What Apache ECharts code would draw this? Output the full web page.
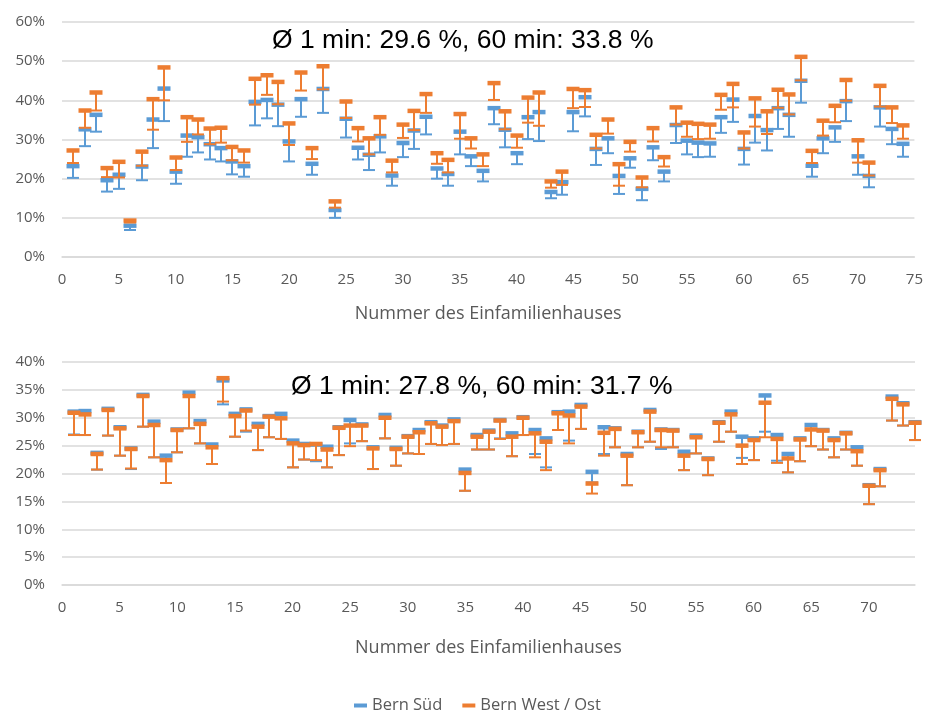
<!DOCTYPE html>
<html>
<head>
<meta charset="utf-8">
<script src="https://cdn.jsdelivr.net/npm/echarts@6/dist/echarts.min.js"></script>
<style>
  html, body { margin: 0; padding: 0; background: #ffffff; }
  #chart { width: 926px; height: 711px; }
</style>
</head>
<body>
<div id="chart"></div>
<script>
// House numbers (x positions)
const houses = [1,2,3,4,5,6,7,8,9,10,11,12,13,14,15,16,17,18,19,20,21,22,23,24,25,
  26,27,28,29,30,31,32,33,34,35,36,37,38,39,40,41,42,43,44,45,46,47,48,49,50,
  51,52,53,54,55,56,57,58,59,60,61,62,63,64,65,66,67,68,69,70,71,72,73,74];

// Upper panel: marker value and lower end of the range, in %
const topSuedMark = [23.2,32.6,36.3,19.6,21.0,8.0,23.1,35.1,43.0,21.8,31.0,30.6,28.8,27.8,24.4,23.2,39.6,40.1,38.9,29.5,
  40.3,23.8,42.9,12.0,35.3,27.9,26.1,30.8,20.8,29.1,32.3,35.8,22.6,21.2,32.0,25.7,22.0,38.0,32.5,26.5,
  35.7,37.0,16.6,19.1,37.0,40.8,27.6,30.3,20.7,25.2,17.4,28.0,21.8,33.7,29.7,29.2,29.0,35.7,40.2,27.6,
  36.0,32.4,38.0,36.3,45.0,23.3,30.3,33.1,39.8,25.7,20.7,38.2,32.7,28.9];
const topSuedLow = [20.2,28.3,32.0,16.7,17.4,6.9,19.6,27.8,34.7,18.7,25.6,26.7,24.9,24.4,21.1,20.5,33.6,35.4,33.4,24.4,
  35.8,21.0,36.8,10.0,30.5,24.9,22.2,26.7,18.2,25.5,27.6,31.3,20.0,18.2,26.2,23.2,19.3,33.9,28.0,23.7,
  30.1,29.6,15.0,15.9,32.1,35.9,23.5,26.5,16.1,22.8,14.5,24.7,19.3,29.1,26.2,25.5,25.6,31.7,34.5,23.6,
  29.2,27.2,32.7,30.7,39.4,20.5,26.5,29.4,34.7,21.0,17.8,33.3,28.8,25.6];
const topWestMark = [27.2,37.4,42.0,22.7,24.3,9.3,26.9,40.3,48.4,25.4,35.7,35.1,32.8,33.0,28.1,27.2,45.5,46.4,44.7,34.1,
  47.1,27.8,48.7,14.2,39.7,32.9,30.3,35.7,24.6,33.8,37.3,41.6,26.5,24.8,36.5,30.3,26.2,44.4,37.2,31.0,
  40.7,42.0,19.3,21.8,42.9,42.6,31.2,35.1,23.7,29.4,20.3,32.9,25.5,38.2,34.3,34.0,33.8,41.4,44.2,31.8,
  40.5,37.2,42.7,41.5,51.1,27.1,34.8,38.6,45.2,29.8,24.1,43.7,38.2,33.6];
const topWestLow = [24.0,33.0,37.4,20.4,20.3,8.8,23.3,32.5,40.0,22.2,29.4,31.3,28.8,29.2,24.7,24.1,38.9,41.4,39.0,28.6,
  42.5,25.0,42.8,12.6,35.5,29.5,26.2,31.2,21.6,30.4,32.4,36.8,23.8,21.6,30.2,27.7,23.2,40.1,32.6,27.9,
  34.3,33.5,17.7,18.4,38.0,38.3,27.7,31.5,18.2,26.9,17.8,29.5,23.1,33.8,30.7,30.1,30.2,37.6,38.2,27.7,
  33.3,31.4,38.1,36.4,45.1,24.0,31.0,34.4,39.9,24.1,20.8,38.4,34.2,30.2];

// Lower panel: marker value and lower end of the range, in %
const bottomSuedMark = [31.1,31.2,23.7,31.6,28.3,24.5,34.1,29.3,23.2,27.9,34.5,29.4,25.2,36.7,30.7,31.5,28.9,30.3,30.7,25.9,
  25.3,25.2,24.8,28.3,29.6,28.8,24.7,30.5,24.6,26.7,27.8,29.2,28.6,29.7,20.7,26.9,27.7,29.6,27.2,30.1,
  27.8,26.3,31.0,31.1,32.3,20.3,28.3,28.1,23.5,27.5,31.4,27.9,27.8,23.9,26.8,22.7,29.2,31.1,26.6,26.3,
  34.0,26.9,23.5,26.3,28.7,27.8,26.3,27.3,24.7,17.9,20.8,33.8,32.6,29.2];
const bottomSuedLow = [27.0,26.9,20.7,26.8,23.2,20.8,28.4,22.9,18.3,23.8,28.1,25.4,21.7,32.4,26.6,27.5,24.2,26.5,26.2,21.1,
  22.5,22.2,21.1,23.3,25.4,25.8,20.8,26.3,21.4,23.6,23.5,25.3,25.1,25.3,16.9,24.3,24.3,26.3,23.1,26.9,
  23.5,21.1,27.8,25.9,28.0,18.4,23.5,24.7,17.9,24.7,25.7,24.4,24.7,20.6,23.6,19.7,25.7,27.5,22.8,22.4,
  27.5,22.3,20.2,22.2,24.9,24.3,22.9,24.3,21.4,14.5,17.7,29.5,28.6,26.0];
const bottomWestMark = [30.9,30.6,23.5,31.4,28.1,24.4,33.9,28.7,22.4,27.8,33.9,28.9,24.7,37.1,30.3,31.3,28.4,30.2,29.9,25.4,
  25.1,25.3,24.3,28.2,28.6,28.6,24.5,30.0,24.4,26.6,27.4,29.0,28.4,29.4,20.1,26.6,27.5,29.5,26.6,30.0,
  27.2,25.7,30.8,30.4,32.0,18.2,27.3,28.0,23.2,27.4,31.1,27.8,27.7,23.2,26.5,22.6,29.1,30.6,25.0,26.0,
  32.7,26.2,22.7,26.1,27.9,27.7,26.0,27.2,24.0,17.8,20.6,33.4,32.4,29.1];
const bottomWestLow = [26.9,26.9,20.7,26.8,23.2,20.9,28.4,22.9,18.3,23.8,28.1,25.4,21.7,32.9,26.6,27.7,24.2,26.5,26.2,21.1,
  22.5,22.4,21.1,23.3,24.9,25.8,20.8,26.3,21.4,23.6,23.5,25.3,25.1,25.3,16.9,24.3,24.3,26.2,23.1,26.9,
  22.9,20.6,27.8,25.4,28.0,16.4,23.2,24.7,17.9,24.7,25.7,24.7,24.7,20.6,23.6,19.7,25.7,27.5,21.7,22.4,
  26.5,21.9,20.2,22.2,24.9,24.3,22.9,24.3,21.4,14.5,17.7,29.5,28.6,26.0];

const topXTicks = [0, 75, 5];      // min, max, interval
const bottomXTicks = [0, 74, 5];
const topYTicks = [0, 60, 10];
const bottomYTicks = [0, 40, 5];

const seriesNames = ['Bern Süd', 'Bern West / Ost'];
const colors = ['#5B9BD5', '#ED7D31'];

const topTitle = 'Ø 1 min: 29.6 %, 60 min: 33.8 %';
const bottomTitle = 'Ø 1 min: 27.8 %, 60 min: 31.7 %';
const axisName = 'Nummer des Einfamilienhauses';

const axisFont = '"Open Sans", "Noto Sans", sans-serif';
const labelColor = '#595959';
const gridColor = '#d9d9d9';

function rows(mark, low) {
  return houses.map((h, i) => [h, mark[i], low[i]]);
}

// Marker (thick dash) at the value, whisker down to a thin cap at the lower end
function renderRange(params, api) {
  const x = api.value(0);
  const pHi = api.coord([x, api.value(1)]);
  const pLo = api.coord([x, api.value(2)]);
  const cx = Math.round(pHi[0]);
  const color = api.visual('color');
  const capW = 12, capH = 2, stemW = 2, markW = 13, markH = 4.5;
  const top = Math.min(pHi[1], pLo[1]);
  const len = Math.abs(pLo[1] - pHi[1]);
  return {
    type: 'group',
    children: [
      { type: 'rect', shape: { x: cx - stemW / 2, y: top, width: stemW, height: len },
        style: { fill: color } },
      { type: 'rect', shape: { x: cx - capW / 2, y: pLo[1] - capH / 2, width: capW, height: capH },
        style: { fill: color } },
      { type: 'rect', shape: { x: cx - markW / 2, y: pHi[1] - markH / 2, width: markW, height: markH },
        style: { fill: color } }
    ]
  };
}

function xAxis(gridIndex, ticks, showMax, nameGap) {
  return {
    type: 'value', gridIndex, min: ticks[0], max: ticks[1], interval: ticks[2],
    name: axisName, nameLocation: 'middle', nameGap,
    nameTextStyle: { color: labelColor, fontFamily: axisFont, fontSize: 18 },
    axisLine: { show: true, lineStyle: { color: gridColor, width: 1.5 } },
    axisTick: { show: false },
    splitLine: { show: false },
    axisLabel: { color: labelColor, fontFamily: axisFont, fontSize: 15, margin: 15, showMaxLabel: showMax }
  };
}

function yAxis(gridIndex, ticks) {
  return {
    type: 'value', gridIndex, min: ticks[0], max: ticks[1], interval: ticks[2],
    axisLine: { show: false },
    axisTick: { show: false },
    splitLine: { show: true, lineStyle: { color: gridColor, width: 1.5 } },
    axisLabel: { color: labelColor, fontFamily: axisFont, fontSize: 15, margin: 17, formatter: '{value}%' }
  };
}

function series(name, color, idx, data) {
  return {
    type: 'custom', name, xAxisIndex: idx, yAxisIndex: idx,
    itemStyle: { color },
    encode: { x: 0, y: [1, 2] },
    renderItem: renderRange,
    data
  };
}

const chart = echarts.init(document.getElementById('chart'), null, { renderer: 'canvas' });
chart.setOption({
  animation: false,
  backgroundColor: '#ffffff',
  grid: [
    { left: 62, right: 11, top: 22, height: 235 },
    { left: 62, right: 11, top: 362, height: 223 }
  ],
  xAxis: [xAxis(0, topXTicks, true, 48), xAxis(1, bottomXTicks, false, 54)],
  yAxis: [yAxis(0, topYTicks), yAxis(1, bottomYTicks)],
  legend: {
    left: 349, top: 692,
    icon: 'rect', itemWidth: 13, itemHeight: 4, itemGap: 20,
    textStyle: { color: labelColor, fontFamily: axisFont, fontSize: 16.5 },
    data: seriesNames
  },
  graphic: [
    { type: 'text', left: 272, top: 27, z: 100,
      style: { text: topTitle, font: '26.5px "Liberation Sans", Arial, sans-serif', fill: '#000000' } },
    { type: 'text', left: 291, top: 373, z: 100,
      style: { text: bottomTitle, font: '26.5px "Liberation Sans", Arial, sans-serif', fill: '#000000' } }
  ],
  series: [
    series(seriesNames[0], colors[0], 0, rows(topSuedMark, topSuedLow)),
    series(seriesNames[1], colors[1], 0, rows(topWestMark, topWestLow)),
    series(seriesNames[0], colors[0], 1, rows(bottomSuedMark, bottomSuedLow)),
    series(seriesNames[1], colors[1], 1, rows(bottomWestMark, bottomWestLow))
  ]
});
</script>
</body>
</html>
